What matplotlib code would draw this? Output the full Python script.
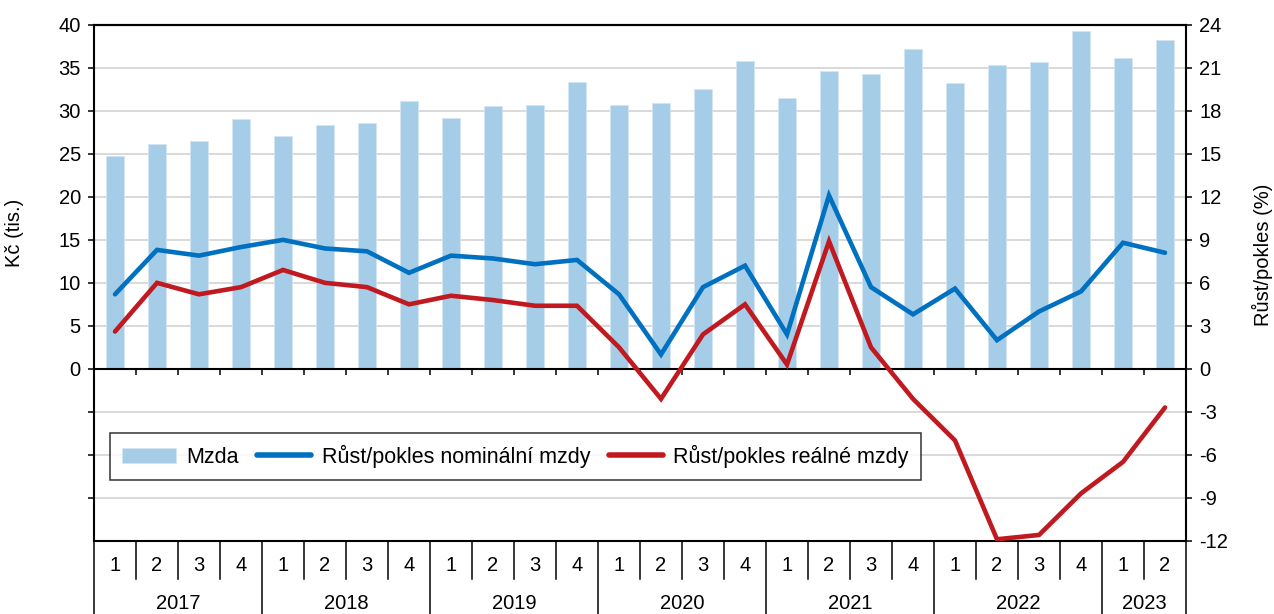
import matplotlib.pyplot as plt
import matplotlib.transforms as mtransforms
import numpy as np

plt.rcParams['font.family'] = ['Liberation Sans', 'DejaVu Sans']
plt.rcParams['axes.unicode_minus'] = False

years = ["2017", "2018", "2019", "2020", "2021", "2022", "2023"]
quarters = ["1", "2", "3", "4"] * 6 + ["1", "2"]

# average wage (thousand CZK)
mzda = [24.8, 26.2, 26.5, 29.1, 27.1, 28.4, 28.6, 31.1, 29.2, 30.6, 30.7, 33.4, 30.7,
        30.9, 32.5, 35.8, 31.5, 34.6, 34.3, 37.2, 33.3, 35.4, 35.7, 39.3, 36.2, 38.3]
# growth of nominal wage (%)
nominalni = [5.2, 8.3, 7.9, 8.5, 9.0, 8.4, 8.2, 6.7, 7.9, 7.7, 7.3, 7.6, 5.2,
             1.0, 5.7, 7.2, 2.4, 12.1, 5.7, 3.8, 5.6, 2.0, 4.0, 5.4, 8.8, 8.1]
# growth of real wage (%)
realne = [2.6, 6.0, 5.2, 5.7, 6.9, 6.0, 5.7, 4.5, 5.1, 4.8, 4.4, 4.4, 1.5,
          -2.1, 2.4, 4.5, 0.3, 8.9, 1.5, -2.1, -5.0, -11.9, -11.6, -8.7, -6.5, -2.7]

n = len(mzda)
x = np.arange(n)

fig = plt.figure(figsize=(12.74, 6.14), dpi=100)
ax = fig.add_axes([94 / 1274, 1 - 540.7 / 614, 1092 / 1274, 515.7 / 614])
ax2 = ax.twinx()

# bars on the left axis
ax.bar(x, mzda, width=0.45, color="#a6cde8", edgecolor="#d4e6f4", linewidth=0.6,
       label="Mzda", zorder=2)
ax.set_xlim(-0.5, n - 0.5)
ax.set_ylim(-20, 40)
ax.set_yticks(np.arange(-15, 41, 5))
ax.set_yticklabels([str(v) if v >= 0 else "" for v in range(-15, 41, 5)])
ax.set_axisbelow(True)
ax.yaxis.grid(True, color="#d0d0d0", linewidth=1.1)
ax.tick_params(axis="y", direction="out", length=4.5, width=1.1, labelsize=14.5, pad=5)

# zero line with category ticks
ax.spines["bottom"].set_position(("data", 0))
ax.spines["bottom"].set_linewidth(1.5)
ax.set_xticks(np.arange(0.5, n - 0.5, 1))
ax.set_xticklabels([])
ax.tick_params(axis="x", direction="out", length=4, width=1.1)
for s in ["left", "top"]:
    ax.spines[s].set_linewidth(1.5)
ax.spines["right"].set_visible(False)

# lines on the right axis
l1, = ax2.plot(x, nominalni, color="#0070c0", linewidth=3.3, solid_capstyle="round",
               solid_joinstyle="miter", label="Růst/pokles nominální mzdy", zorder=3)
l2, = ax2.plot(x, realne, color="#c0191f", linewidth=3.3, solid_capstyle="round",
               solid_joinstyle="miter", label="Růst/pokles reálné mzdy", zorder=3)
ax2.set_ylim(-12, 24)
ax2.set_yticks(np.arange(-12, 25, 3))
ax2.tick_params(axis="y", direction="out", length=4.5, width=1.1, labelsize=14.5, pad=5)
for s in ["right", "bottom", "top"]:
    ax2.spines[s].set_linewidth(1.5)
ax2.spines["left"].set_visible(False)

# category axis below the plot
trans = mtransforms.blended_transform_factory(ax.transData, ax.transAxes)
for i in range(n + 1):
    pos = i - 0.5
    bottom = -0.145 if i % 4 == 0 or i == n else -0.0745
    ax.plot([pos, pos], [0, bottom], transform=trans, color="black", linewidth=1.1,
            clip_on=False)
for i, q in enumerate(quarters):
    ax.text(i, -0.049, q, transform=trans, ha="center", va="center", fontsize=14.5)
for j, yr in enumerate(years):
    start = j * 4
    end = min(start + 4, n)
    ax.text((start + end - 1) / 2, -0.121, yr, transform=trans, ha="center",
            va="center", fontsize=14.5)

fig.text(15 / 1274, 1 - 233 / 614, "Kč (tis.)", rotation=90, ha="center", va="center",
         fontsize=14.5)
fig.text(1262 / 1274, 1 - 255 / 614, "Růst/pokles (%)", rotation=90, ha="center",
         va="center", fontsize=14.5)

handles = [ax.patches[0], l1, l2]
leg = ax2.legend(handles, ["Mzda", "Růst/pokles nominální mzdy", "Růst/pokles reálné mzdy"],
                 loc="center left", bbox_to_anchor=(0.005, 0.164), ncol=3, fontsize=15.5,
                 frameon=True, fancybox=False, edgecolor="black", handlelength=2.5,
                 handletextpad=0.5, columnspacing=0.85, borderpad=0.55)
leg.get_frame().set_linewidth(1.1)
for h in leg.legend_handles[1:]:
    h.set_linewidth(4)

fig.savefig("out.png", dpi=100)
